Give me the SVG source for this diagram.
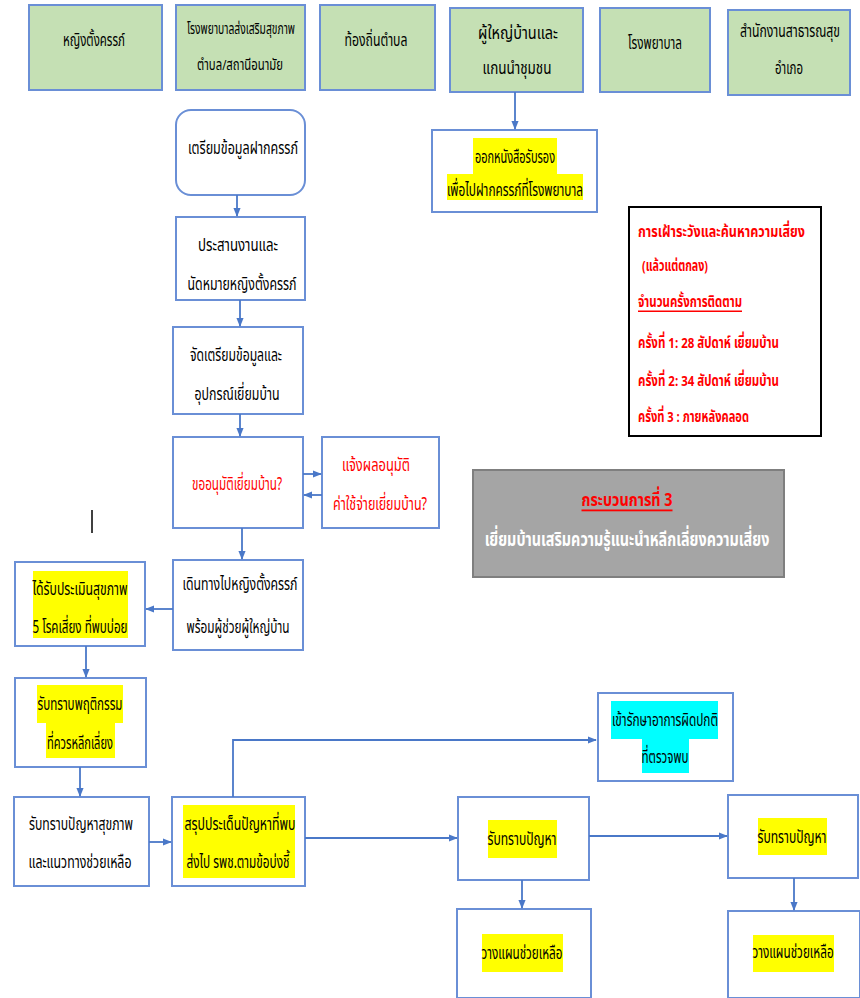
<svg xmlns="http://www.w3.org/2000/svg" width="860" height="998" viewBox="0 0 860 998">
<defs>
<marker id="ah" viewBox="0 0 10 10" refX="9" refY="5" markerWidth="9" markerHeight="9" orient="auto" markerUnits="userSpaceOnUse">
<path d="M0,1 L10,5 L0,9 z" fill="#4a78c8"/>
</marker>
<style>
.g{fill:#c5e0b4;stroke:#6a8fd6;stroke-width:2}
.b{fill:#fff;stroke:#6a8fd6;stroke-width:2}
.t{font-family:"Noto Sans Thai","Noto Sans","DejaVu Sans",sans-serif;font-size:18px;fill:#000;text-anchor:middle;dominant-baseline:central}
.s{font-size:15px}
.r{fill:#ff0000}
.hy{fill:#ffff00}
.hc{fill:#00ffff}
.c{fill:none;stroke:#4a78c8;stroke-width:1.8;marker-end:url(#ah)}
.rt{font-family:"Noto Sans Thai","Noto Sans","DejaVu Sans",sans-serif;font-size:15px;fill:#ff0000;font-weight:bold;dominant-baseline:central}
</style>
</defs>
<rect width="860" height="998" fill="#fff"/>

<g id="lane1"><rect class="g" x="29" y="5" width="133" height="85"/><text class="t" x="94" y="40" textLength="62" lengthAdjust="spacingAndGlyphs">หญิงตั้งครรภ์</text></g>
<g id="lane2"><rect class="g" x="176" y="5" width="129" height="85"/><text class="t s" x="241" y="29" textLength="108" lengthAdjust="spacingAndGlyphs">โรงพยาบาลส่งเสริมสุขภาพ</text><text class="t s" x="240" y="65" textLength="86" lengthAdjust="spacingAndGlyphs">ตำบล/สถานีอนามัย</text></g>
<g id="lane3"><rect class="g" x="320" y="5" width="115" height="85"/><text class="t" x="376" y="40" textLength="63" lengthAdjust="spacingAndGlyphs">ท้องถิ่นตำบล</text></g>
<g id="lane4"><rect class="g" x="450" y="8" width="133" height="84"/><text class="t" x="518" y="33" textLength="80" lengthAdjust="spacingAndGlyphs">ผู้ใหญ่บ้านและ</text><text class="t" x="517" y="68" textLength="69" lengthAdjust="spacingAndGlyphs">แกนนำชุมชน</text></g>
<g id="lane5"><rect class="g" x="600" y="8" width="110" height="84"/><text class="t" x="655" y="43" textLength="54" lengthAdjust="spacingAndGlyphs">โรงพยาบาล</text></g>
<g id="lane6"><rect class="g" x="728" y="10" width="122" height="85"/><text class="t" transform="translate(790,32) scale(0.65,1)" x="0" y="0" textLength="154" lengthAdjust="spacingAndGlyphs">สำนักงานสาธารณสุข</text><text class="t" x="789" y="68" textLength="28" lengthAdjust="spacingAndGlyphs">อำเภอ</text></g>

<g id="n_prep"><rect class="b" x="176" y="110" width="129" height="85" rx="15"/><text class="t" x="243" y="148" textLength="110" lengthAdjust="spacingAndGlyphs">เตรียมข้อมูลฝากครรภ์</text></g>
<g id="n_coord"><rect class="b" x="176" y="217" width="129" height="83"/><text class="t" x="238" y="245" textLength="80" lengthAdjust="spacingAndGlyphs">ประสานงานและ</text><text class="t" x="242" y="284" textLength="109" lengthAdjust="spacingAndGlyphs">นัดหมายหญิงตั้งครรภ์</text></g>
<g id="n_cert"><rect class="b" x="432" y="130" width="165" height="82"/><rect class="hy" x="473" y="138" width="84" height="36"/><rect class="hy" x="447" y="174" width="136" height="26"/><text class="t" x="515" y="157" textLength="80" lengthAdjust="spacingAndGlyphs">ออกหนังสือรับรอง</text><text class="t" x="515" y="190" textLength="136" lengthAdjust="spacingAndGlyphs">เพื่อไปฝากครรภ์ที่โรงพยาบาล</text></g>
<g id="n_equip"><rect class="b" x="173" y="327" width="130" height="87"/><text class="t" x="236" y="355" textLength="92" lengthAdjust="spacingAndGlyphs">จัดเตรียมข้อมูลและ</text><text class="t" x="237" y="394" textLength="85" lengthAdjust="spacingAndGlyphs">อุปกรณ์เยี่ยมบ้าน</text></g>
<g id="n_ask"><rect class="b" x="173" y="437" width="130" height="91"/><text class="t r" x="237" y="484" textLength="90" lengthAdjust="spacingAndGlyphs">ขออนุมัติเยี่ยมบ้าน?</text></g>
<g id="n_notify"><rect class="b" x="322" y="437" width="117" height="91"/><text class="t r" x="376" y="465" textLength="68" lengthAdjust="spacingAndGlyphs">แจ้งผลอนุมัติ</text><text class="t r" x="380" y="504" textLength="94" lengthAdjust="spacingAndGlyphs">ค่าใช้จ่ายเยี่ยมบ้าน?</text></g>
<g id="n_travel"><rect class="b" x="173" y="560" width="130" height="90"/><text class="t" x="240" y="584" textLength="115" lengthAdjust="spacingAndGlyphs">เดินทางไปหญิงตั้งครรภ์</text><text class="t" x="238" y="627" textLength="103" lengthAdjust="spacingAndGlyphs">พร้อมผู้ช่วยผู้ใหญ่บ้าน</text></g>
<g id="n_assess"><rect class="b" x="15" y="562" width="130" height="84"/><rect class="hy" x="33" y="571" width="95" height="67"/><text class="t" x="80" y="589" textLength="95" lengthAdjust="spacingAndGlyphs">ได้รับประเมินสุขภาพ</text><text class="t" x="80" y="627" textLength="95" lengthAdjust="spacingAndGlyphs">5 โรคเสี่ยง ที่พบบ่อย</text></g>
<g id="n_behav"><rect class="b" x="15" y="678" width="131" height="89"/><rect class="hy" x="37" y="685" width="86" height="38"/><rect class="hy" x="46" y="723" width="69" height="35"/><text class="t" x="80" y="704" textLength="85" lengthAdjust="spacingAndGlyphs">รับทราบพฤติกรรม</text><text class="t" x="80" y="743" textLength="66" lengthAdjust="spacingAndGlyphs">ที่ควรหลีกเลี่ยง</text></g>
<g id="n_health"><rect class="b" x="14" y="797" width="135" height="89"/><text class="t" x="81" y="824" textLength="104" lengthAdjust="spacingAndGlyphs">รับทราบปัญหาสุขภาพ</text><text class="t" x="80" y="862" textLength="103" lengthAdjust="spacingAndGlyphs">และแนวทางช่วยเหลือ</text></g>
<g id="n_summary"><rect class="b" x="172" y="797" width="133" height="89"/><rect class="hy" x="183" y="805" width="112" height="73"/><text class="t" x="240" y="824" textLength="111" lengthAdjust="spacingAndGlyphs">สรุปประเด็นปัญหาที่พบ</text><text class="t" x="238" y="862" textLength="103" lengthAdjust="spacingAndGlyphs">ส่งไป รพช.ตามข้อบ่งชี้</text></g>
<g id="n_treat"><rect class="b" x="598" y="693" width="135" height="88"/><rect class="hc" x="611" y="701" width="107" height="38"/><rect class="hc" x="642" y="739" width="47" height="34"/><text class="t" x="665" y="720" textLength="106" lengthAdjust="spacingAndGlyphs">เข้ารักษาอาการผิดปกติ</text><text class="t" x="665" y="757" textLength="47" lengthAdjust="spacingAndGlyphs">ที่ตรวจพบ</text></g>
<g id="n_ack1"><rect class="b" x="458" y="797" width="131" height="83"/><rect class="hy" x="488" y="820" width="69" height="38"/><text class="t" x="522" y="839" textLength="69" lengthAdjust="spacingAndGlyphs">รับทราบปัญหา</text></g>
<g id="n_ack2"><rect class="b" x="728" y="795" width="130" height="83"/><rect class="hy" x="758" y="818" width="69" height="37"/><text class="t" x="792" y="837" textLength="69" lengthAdjust="spacingAndGlyphs">รับทราบปัญหา</text></g>
<g id="n_plan1"><rect class="b" x="457" y="909" width="134" height="89"/><rect class="hy" x="482" y="934" width="81" height="38"/><text class="t" x="522" y="953" textLength="81" lengthAdjust="spacingAndGlyphs">วางแผนช่วยเหลือ</text></g>
<g id="n_plan2"><rect class="b" x="728" y="911" width="132" height="87"/><rect class="hy" x="753" y="935" width="81" height="37"/><text class="t" transform="translate(793,953) scale(0.65,1)" x="0" y="0" textLength="125" lengthAdjust="spacingAndGlyphs">วางแผนช่วยเหลือ</text></g>

<g id="n_risk"><rect x="629" y="207" width="192" height="229" fill="#fff" stroke="#000" stroke-width="2"/>
<text class="rt" x="638" y="232" textLength="167" lengthAdjust="spacingAndGlyphs">การเฝ้าระวังและค้นหาความเสี่ยง</text>
<text class="rt" x="642" y="266" textLength="66" lengthAdjust="spacingAndGlyphs">(แล้วแต่ตกลง)</text>
<text class="rt" x="638" y="302" textLength="104" lengthAdjust="spacingAndGlyphs" text-decoration="underline">จำนวนครั้งการติดตาม</text>
<text class="rt" x="638" y="343" textLength="141" lengthAdjust="spacingAndGlyphs">ครั้งที่ 1: 28 สัปดาห์ เยี่ยมบ้าน</text>
<text class="rt" x="638" y="381" textLength="141" lengthAdjust="spacingAndGlyphs">ครั้งที่ 2: 34 สัปดาห์ เยี่ยมบ้าน</text>
<text class="rt" x="638" y="417" textLength="111" lengthAdjust="spacingAndGlyphs">ครั้งที่ 3 : ภายหลังคลอด</text></g>

<g id="n_process"><rect x="473" y="470" width="311" height="107" fill="#a5a5a5" stroke="#7f7f7f" stroke-width="2"/>
<text class="t" x="627" y="500" style="fill:#ff0000;font-weight:bold;font-size:18px" text-decoration="underline" textLength="91" lengthAdjust="spacingAndGlyphs">กระบวนการที่ 3</text>
<text class="t" transform="translate(627,540) scale(0.65,1)" x="0" y="0" style="fill:#fff;font-weight:bold;font-size:20px" textLength="438" lengthAdjust="spacingAndGlyphs">เยี่ยมบ้านเสริมความรู้แนะนำหลีกเลี่ยงความเสี่ยง</text></g>

<line x1="92" y1="510" x2="92" y2="533" stroke="#000" stroke-width="1.5"/>

<g id="connectors">
<path class="c" d="M515,92 V129"/>
<path class="c" d="M237,195 V216"/>
<path class="c" d="M240,300 V326"/>
<path class="c" d="M240,414 V436"/>
<path class="c" d="M303,474 H321"/>
<path class="c" d="M322,495 H304"/>
<path class="c" d="M242,528 V559"/>
<path class="c" d="M173,609 H146"/>
<path class="c" d="M86,646 V677"/>
<path class="c" d="M80,767 V796"/>
<path class="c" d="M149,842 H171"/>
<path class="c" d="M233,797 V740 H596"/>
<path class="c" d="M305,838 H457"/>
<path class="c" d="M589,836 H727"/>
<path class="c" d="M522,880 V908"/>
<path class="c" d="M794,878 V910"/>
</g>
</svg>
